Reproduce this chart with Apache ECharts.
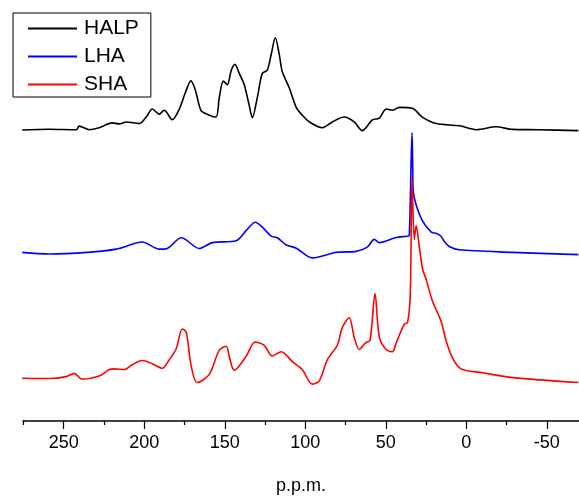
<!DOCTYPE html>
<html>
<head>
<meta charset="utf-8">
<script src="https://cdn.jsdelivr.net/npm/echarts@6/dist/echarts.min.js"></script>
<style>html,body{margin:0;padding:0;background:#fff}#c{width:579px;height:500px}</style>
</head>
<body>
<div id="c"></div>
<script>
// Chemical shift ticks (p.p.m.)
var majorTicks = [-50, 0, 50, 100, 150, 200, 250];
var minorTicks = [-25, 25, 75, 125, 175, 225, 275];
var seriesNames = ['HALP', 'LHA', 'SHA'];
var seriesOffsets = [299, 173, 43];

// HALP
var halpPpm = [275.8,259,242.2,240.4,234.2,228,219.9,215.5,211.2,203.1,198.8,195,190.7,187.6,182.6,178.3,174.5,171,168.3,164.8,160.9,155.5,153.4,150.9,148.4,146,143.7,141,137.9,134.8,132.9,129.8,126.7,123.6,121.1,118.6,116.1,114.3,109.9,105.6,101.9,97.5,89.4,83.2,75.8,69.6,64.6,58.4,54,49.7,46,41.6,33.5,27.3,18.6,4.3,-6.2,-18.6,-28.6,-45.3,-69.6];
var halpInt = [0.7,1.5,1,4.7,1,3,8,7,9,7.3,14,22.3,17,21,11.3,22,39,51.3,42,21,17,14,34,51,47.3,62,68.3,59,47.3,26,13.3,34,59,62.3,79,95.7,78,61,44,24,16,9,3,9,14,9,0,11,13,22.3,21,24,23,14,7.3,5,1,4,1.3,1,0];

// LHA
var lhaPpm = [275.8,259,235.4,217.4,201.2,190.7,186.3,177,165.8,157.8,142.9,136.6,131.1,126.7,121.1,117.4,111.8,105.6,95.7,80.7,68.3,61.5,57.1,54,43.5,36.6,35.4,33.7,33.3,32.9,31.2,27.3,21.9,18.6,15.7,13.7,10.6,4.3,-28.6,-69.6];
var lhaInt = [0.7,-1,0.7,4,11.3,4,4.3,15.7,4.7,10.7,12.7,23.3,31.7,26.7,17.3,15.7,8.3,5,-5,0.7,1.7,6,14,10.7,16,17.3,18,124,90,63,50,33.3,21.7,20,17.3,12,6.7,3.3,0.7,-1.7];

// SHA
var shaPpm = [275.8,259,248.4,243.5,238.5,228,221.7,218.6,212.4,207.5,201.2,195,188.8,184.5,180.1,176.4,173.9,170.8,167.1,159.6,153.4,149.1,147.2,144.1,136.6,131.1,125.5,120.5,114.9,108.1,101.9,95.7,91.3,86.3,80.1,77,72.7,69.6,66.5,62.7,59.8,56.7,54,49.8,45.8,43.7,38.5,36.5,34.8,33.7,32.3,31.1,29.2,27.1,25,20.9,15.7,12.6,8.5,3.3,-10.1,-28.8,-69.6];
var shaInt = [1,0.7,2.7,6,0,3.3,10,10.7,10,15,19.3,16,11.3,20,31.7,51.7,48.3,13.3,-3.3,5,30,34,23.3,9.3,24,38.3,35,24,28.3,18.3,10,-5,-1.7,20,35,53.3,63.3,43.3,30.7,37.3,40,88.3,43.3,30.7,28.3,36.7,56.7,58.3,87,206.7,144,158.3,136.7,113.3,103.3,80,60,40,21.7,10.7,6.7,1.7,-3.3];

var colors = ['#000000', '#0000ff', '#ff0000'];
var ppmSets = [halpPpm, lhaPpm, shaPpm];
var intSets = [halpInt, lhaInt, shaInt];

var FONT = 'Liberation Sans, Arial, sans-serif';
var series = seriesNames.map(function (name, i) {
  return {
    name: name,
    type: 'line',
    xAxisIndex: 0,
    showSymbol: false,
    symbol: 'none',
    smooth: 0.3,
    lineStyle: { color: colors[i], width: 1.6 },
    itemStyle: { color: colors[i] },
    data: ppmSets[i].map(function (p, k) { return [p, intSets[i][k] + seriesOffsets[i]]; })
  };
});

var chart = echarts.init(document.getElementById('c'), null, { renderer: 'canvas' });
chart.setOption({
  animation: false,
  backgroundColor: '#ffffff',
  grid: { left: 23, right: 0, top: 19, bottom: 67, containLabel: false },
  legend: {
    orient: 'vertical',
    left: 13, top: 13,
    padding: [5, 12, 2, 15],
    itemGap: 7,
    itemWidth: 49,
    itemHeight: 2,
    icon: 'rect',
    borderColor: '#000', borderWidth: 1,
    textStyle: { fontFamily: FONT, fontSize: 21, color: '#000', padding: [0, 0, 0, 2] },
    data: seriesNames
  },
  xAxis: [{
    type: 'value', inverse: true, min: -70, max: 275.3,
    name: 'p.p.m.', nameLocation: 'middle', nameGap: 56,
    nameTextStyle: { fontFamily: FONT, fontSize: 18, color: '#000' },
    axisLine: { show: true, lineStyle: { color: '#000', width: 1.5 } },
    axisTick: { show: true, length: 8, lineStyle: { color: '#000', width: 1.2 }, customValues: majorTicks },
    axisLabel: { fontFamily: FONT, fontSize: 18, color: '#000', margin: 13, customValues: majorTicks },
    splitLine: { show: false }
  }, {
    type: 'value', inverse: true, min: -70, max: 275.3, position: 'bottom',
    axisLine: { show: false },
    axisTick: { show: true, length: 4, lineStyle: { color: '#000', width: 1.2 }, customValues: minorTicks },
    axisLabel: { show: false, customValues: minorTicks },
    splitLine: { show: false }
  }],
  yAxis: { type: 'value', min: 0, max: 414, show: false },
  series: series
});
</script>
</body>
</html>
